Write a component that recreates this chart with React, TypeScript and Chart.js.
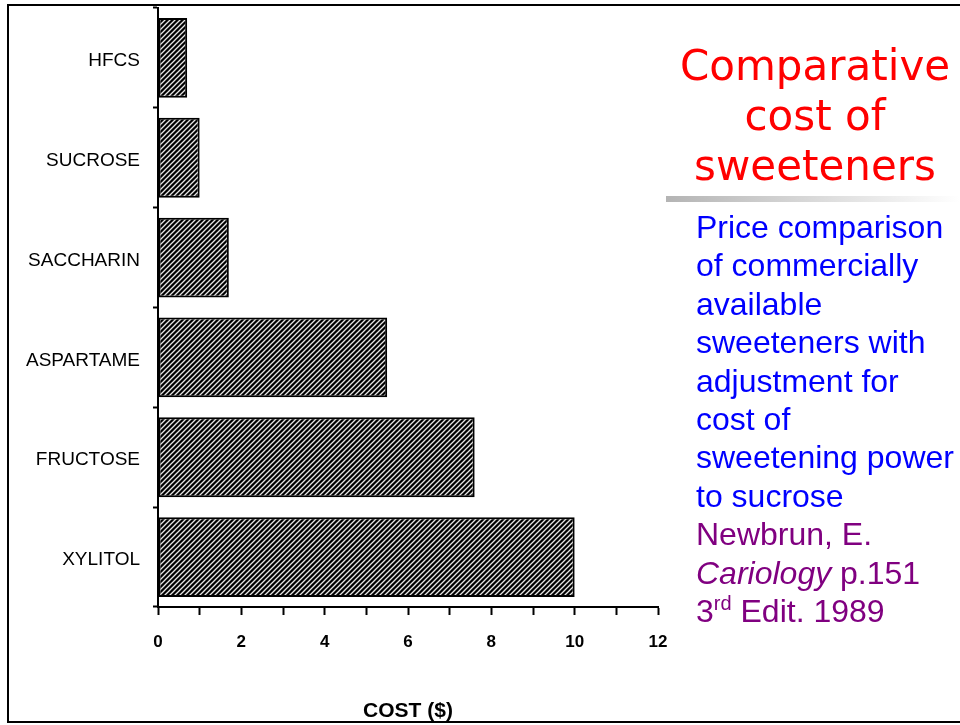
import React, { useEffect, useRef } from "react";
import { Chart, registerables } from "chart.js";

Chart.register(...registerables);

// Sweeteners and their relative cost (US$), adjusted for sweetening power
const sweeteners = ["HFCS", "SUCROSE", "SACCHARIN", "ASPARTAME", "FRUCTOSE", "XYLITOL"];
const costs = [0.7, 1.0, 1.7, 5.5, 7.6, 10.0];
const costTickLabels = [0, 2, 4, 6, 8, 10, 12];
const axisTitle = "COST ($)";

const titleLines = ["Comparative", "cost of", "sweeteners"];
const descriptionLines = [
  "Price comparison",
  "of commercially",
  "available",
  "sweeteners with",
  "adjustment for",
  "cost of",
  "sweetening power",
  "to sucrose",
];

// Diagonal hatch fill: black ground with thin light stripes (///)
function makeHatch(): CanvasPattern | string {
  const size = 5;
  const tile = document.createElement("canvas");
  tile.width = size;
  tile.height = size;
  const c = tile.getContext("2d");
  if (!c) return "#000";
  c.fillStyle = "#000";
  c.fillRect(0, 0, size, size);
  c.strokeStyle = "rgba(255,255,255,0.9)";
  c.lineWidth = 1.3;
  c.beginPath();
  c.moveTo(0, size);
  c.lineTo(size, 0);
  c.moveTo(-1, 1);
  c.lineTo(1, -1);
  c.moveTo(size - 1, size + 1);
  c.lineTo(size + 1, size - 1);
  c.stroke();
  const p = c.createPattern(tile, "repeat");
  return p || "#000";
}

export default function App() {
  const canvasRef = useRef<HTMLCanvasElement | null>(null);

  useEffect(() => {
    const canvas = canvasRef.current;
    if (!canvas) return;
    const hatch = makeHatch();

    const chart = new Chart(canvas, {
      type: "bar",
      data: {
        labels: sweeteners,
        datasets: [
          {
            data: costs,
            backgroundColor: hatch as any,
            borderColor: "#000",
            borderWidth: 2,
            borderSkipped: false,
            barPercentage: 0.8,
            categoryPercentage: 1,
          },
        ],
      },
      options: {
        indexAxis: "y",
        animation: false,
        responsive: false,
        devicePixelRatio: 1,
        layout: { padding: { top: 8, right: 302, bottom: 0, left: 0 } },
        plugins: {
          legend: { display: false },
          tooltip: { enabled: false },
        },
        scales: {
          y: {
            type: "category",
            afterFit: (s: any) => {
              s.width = 158;
              s.paddingTop = 0;
              s.paddingBottom = 0;
            },
            border: { display: true, color: "#000", width: 2 },
            grid: {
              offset: true,
              drawOnChartArea: false,
              drawTicks: true,
              tickLength: 5,
              tickColor: "#000",
              tickWidth: 2,
            },
            ticks: {
              color: "#000",
              padding: 13,
              labelOffset: 3,
              font: { family: "'Liberation Sans', Arial, sans-serif", size: 19 },
            },
          },
          x: {
            type: "linear",
            min: 0,
            max: 12,
            afterFit: (s: any) => {
              s.height = 118;
              s.paddingLeft = 0;
              s.paddingRight = 0;
            },
            border: { display: true, color: "#000", width: 2 },
            grid: {
              drawOnChartArea: false,
              drawTicks: true,
              tickLength: 8,
              tickColor: "#000",
              tickWidth: 2,
            },
            ticks: {
              stepSize: 1,
              autoSkip: false,
              maxRotation: 0,
              color: "#000",
              padding: 17,
              font: { family: "'Liberation Sans', Arial, sans-serif", size: 17, weight: "bold" },
              callback: (v: any) => (costTickLabels.includes(Number(v)) ? String(v) : ""),
            },
            title: {
              display: true,
              text: axisTitle,
              color: "#000",
              padding: { top: 0, bottom: 1 },
              font: { family: "'Liberation Sans', Arial, sans-serif", size: 21, weight: "bold" },
            },
          },
        },
      },
    });

    return () => chart.destroy();
  }, []);

  return (
    <div
      style={{
        position: "absolute",
        left: 0,
        top: 0,
        width: 960,
        height: 725,
        background: "#fff",
        overflow: "hidden",
      }}
    >
      <div
        style={{
          position: "absolute",
          left: 7,
          top: 4,
          width: 960,
          height: 719,
          boxSizing: "border-box",
          borderLeft: "2px solid #000",
          borderTop: "2px solid #000",
          borderBottom: "2px solid #000",
        }}
      />
      <canvas
        ref={canvasRef}
        width={960}
        height={725}
        style={{ position: "absolute", left: 0, top: 0, width: 960, height: 725 }}
      />
      <div
        style={{
          position: "absolute",
          left: 670,
          top: 41,
          width: 290,
          textAlign: "center",
          fontFamily: "'DejaVu Sans', Verdana, sans-serif",
          fontSize: 42,
          lineHeight: "50px",
          color: "#ff0000",
        }}
      >
        {titleLines.map((t) => (
          <div key={t}>{t}</div>
        ))}
      </div>
      <div
        style={{
          position: "absolute",
          left: 666,
          top: 196,
          width: 294,
          height: 6,
          background: "linear-gradient(to right, #b4b4b4, #ffffff)",
        }}
      />
      <div
        style={{
          position: "absolute",
          left: 696,
          top: 208,
          width: 264,
          fontFamily: "'Liberation Sans', Arial, sans-serif",
          fontSize: 32,
          lineHeight: "38.4px",
          whiteSpace: "nowrap",
        }}
      >
        {descriptionLines.map((t) => (
          <div key={t} style={{ color: "#0000ff" }}>
            {t}
          </div>
        ))}
        <div style={{ color: "#800080" }}>Newbrun, E.</div>
        <div style={{ color: "#800080" }}>
          <i>Cariology</i> p.151
        </div>
        <div style={{ color: "#800080" }}>
          3
          <span style={{ fontSize: 20, position: "relative", top: -12, lineHeight: 0 }}>rd</span>
          {" "}Edit. 1989
        </div>
      </div>
    </div>
  );
}
